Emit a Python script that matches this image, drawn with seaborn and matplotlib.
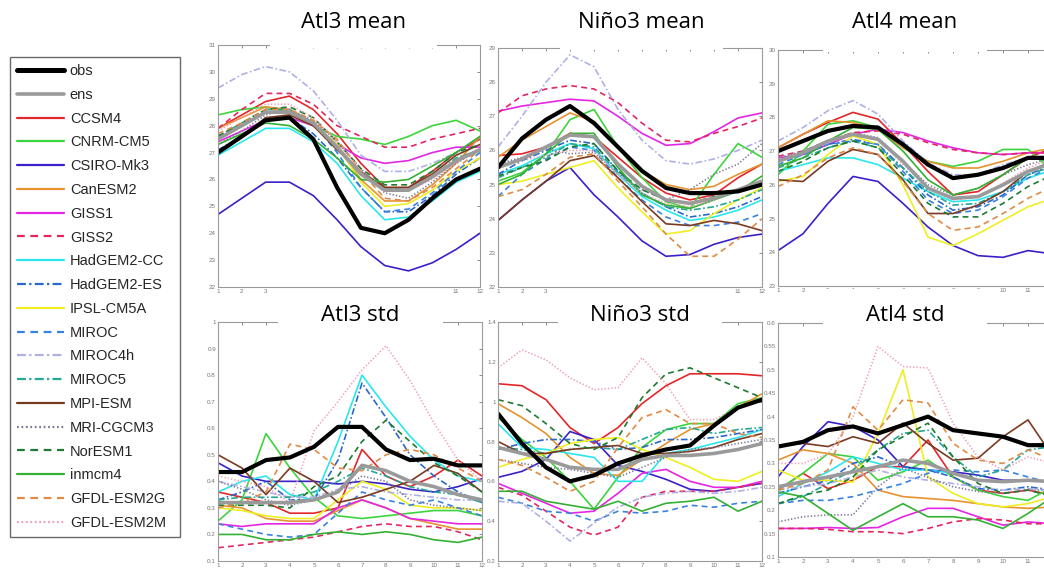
import matplotlib
matplotlib.use('Agg')
import matplotlib.pyplot as plt
from matplotlib.lines import Line2D
from matplotlib.patches import Rectangle
from matplotlib.ticker import FuncFormatter
import numpy as np
import seaborn as sns

# ---------------------------------------------------------------
# Data: monthly climatology (mean) and std, one row per model
# ---------------------------------------------------------------
MONTHS = list(range(1, 13))

MODELS = ['obs', 'ens', 'CCSM4', 'CNRM-CM5', 'CSIRO-Mk3', 'CanESM2', 'GISS1', 'GISS2',
          'HadGEM2-CC', 'HadGEM2-ES', 'IPSL-CM5A', 'MIROC', 'MIROC4h', 'MIROC5',
          'MPI-ESM', 'MRI-CGCM3', 'NorESM1', 'inmcm4', 'GFDL-ESM2G', 'GFDL-ESM2M']

ATL3_MEAN = [
    [27.0, 27.6, 28.2, 28.3, 27.5, 25.7, 24.2, 24.0, 24.5, 25.3, 26.0, 26.4],
    [27.5, 28.0, 28.5, 28.5, 28.1, 27.2, 26.2, 25.6, 25.6, 26.1, 26.7, 27.1],
    [27.9, 28.4, 28.9, 29.1, 28.6, 27.7, 26.6, 25.7, 25.7, 26.3, 27.0, 27.5],
    [28.4, 28.6, 28.7, 28.5, 28.0, 27.6, 27.5, 27.3, 27.6, 28.0, 28.2, 27.8],
    [24.7, 25.3, 25.9, 25.9, 25.4, 24.5, 23.5, 22.8, 22.6, 22.9, 23.4, 24.0],
    [27.9, 28.3, 28.7, 28.6, 28.1, 27.2, 26.0, 25.2, 25.2, 25.8, 26.6, 27.6],
    [27.4, 27.8, 28.2, 28.3, 28.0, 27.3, 26.8, 26.6, 26.7, 27.0, 27.2, 27.2],
    [27.9, 28.6, 29.2, 29.2, 28.8, 28.0, 27.6, 27.2, 27.2, 27.5, 27.7, 27.9],
    [26.9, 27.4, 27.9, 27.9, 27.4, 26.6, 25.4, 24.5, 24.6, 25.2, 25.9, 26.3],
    [27.1, 27.6, 28.2, 28.3, 27.7, 26.8, 25.7, 24.8, 24.8, 25.4, 26.2, 26.8],
    [27.5, 28.0, 28.5, 28.5, 28.1, 27.3, 25.9, 25.0, 25.1, 25.6, 26.3, 26.8],
    [27.6, 28.0, 28.6, 28.6, 28.1, 27.0, 25.7, 24.8, 24.9, 25.5, 26.3, 27.0],
    [29.4, 29.9, 30.2, 30.0, 29.3, 28.2, 26.9, 26.3, 26.3, 26.6, 27.0, 27.6],
    [27.6, 28.1, 28.6, 28.6, 28.1, 27.2, 26.2, 25.7, 25.6, 26.1, 26.8, 27.1],
    [27.0, 27.6, 28.3, 28.4, 28.0, 27.1, 26.3, 25.7, 25.7, 26.2, 26.9, 27.3],
    [27.3, 27.8, 28.4, 28.6, 28.2, 27.4, 26.4, 25.5, 25.3, 25.9, 26.6, 27.1],
    [27.6, 28.1, 28.6, 28.7, 28.3, 27.4, 26.4, 25.8, 25.8, 26.3, 27.0, 27.3],
    [27.3, 27.7, 28.1, 28.0, 27.5, 26.8, 26.0, 25.9, 26.0, 26.5, 27.0, 27.6],
    [27.7, 28.1, 28.6, 28.6, 28.2, 27.5, 26.3, 25.3, 25.2, 25.7, 26.4, 27.1],
    [27.8, 28.3, 28.8, 28.8, 28.3, 27.4, 26.3, 25.6, 25.6, 26.0, 26.6, 27.2],
]

NINO3_MEAN = [
    [25.5, 26.35, 26.9, 27.3, 26.8, 26.1, 25.4, 24.9, 24.75, 24.75, 24.8, 25.0],
    [25.5, 25.75, 26.1, 26.45, 26.4, 25.6, 24.95, 24.55, 24.45, 24.6, 24.85, 25.1],
    [25.85, 25.9, 26.1, 26.5, 26.4, 25.8, 25.2, 24.75, 24.55, 24.7, 25.2, 25.6],
    [25.1, 25.35, 25.9, 26.9, 27.2, 26.1, 25.2, 24.5, 24.3, 25.3, 26.2, 25.8],
    [23.95, 24.55, 25.1, 25.5, 24.7, 24.05, 23.35, 22.9, 22.95, 23.25, 23.45, 23.55],
    [25.8, 26.3, 26.7, 27.1, 26.85, 26.1, 25.4, 25.0, 24.85, 24.95, 25.3, 25.6],
    [27.15, 27.3, 27.4, 27.5, 27.45, 27.0, 26.5, 26.15, 26.2, 26.55, 26.95, 27.1],
    [27.1, 27.6, 27.8, 27.9, 27.8, 27.4, 26.8, 26.3, 26.25, 26.5, 26.7, 26.95],
    [25.3, 25.55, 25.9, 26.2, 26.05, 25.3, 24.65, 24.25, 23.95, 24.05, 24.25, 24.55],
    [25.3, 25.7, 26.0, 26.3, 26.2, 25.4, 24.75, 24.35, 24.05, 24.15, 24.35, 24.65],
    [25.0, 25.1, 25.3, 25.5, 25.7, 24.9, 24.2, 23.55, 23.65, 24.15, 24.55, 24.9],
    [24.65, 25.3, 25.75, 26.1, 26.0, 25.2, 24.55, 24.05, 23.8, 23.8, 23.9, 24.15],
    [26.1, 27.0, 28.0, 28.8, 28.45, 27.2, 26.3, 25.7, 25.6, 25.75, 26.0, 26.3],
    [25.2, 25.5, 25.8, 26.2, 26.1, 25.35, 24.75, 24.35, 24.25, 24.35, 24.55, 24.85],
    [23.95, 24.55, 25.1, 25.7, 25.85, 25.2, 24.5, 23.85, 23.8, 23.95, 23.85, 23.65],
    [25.6, 25.8, 26.05, 25.9, 25.95, 25.3, 24.85, 24.55, 24.85, 25.3, 25.6, 26.2],
    [25.25, 25.5, 25.7, 26.1, 26.2, 25.4, 24.85, 24.55, 24.45, 24.65, 24.85, 25.05],
    [25.0, 25.3, 25.9, 26.5, 26.5, 25.5, 24.7, 24.4, 24.3, 24.55, 24.8, 25.25],
    [24.65, 24.85, 25.3, 25.8, 25.9, 25.1, 24.35, 23.55, 22.9, 22.9, 23.4, 24.0],
    [25.5, 25.7, 25.85, 26.0, 26.0, 25.3, 24.75, 24.45, 24.35, 24.55, 24.85, 25.1],
]

ATL4_MEAN = [
    [27.0, 27.3, 27.6, 27.75, 27.7, 27.2, 26.6, 26.2, 26.3, 26.5, 26.8, 26.8],
    [26.7, 26.95, 27.3, 27.5, 27.35, 26.7, 25.9, 25.6, 25.65, 26.0, 26.4, 26.65],
    [27.1, 27.5, 27.85, 28.15, 27.95, 27.2, 26.4, 25.7, 25.8, 26.3, 26.8, 27.1],
    [26.3, 27.0, 27.8, 27.9, 27.7, 27.1, 26.7, 26.55, 26.7, 27.05, 27.05, 26.4],
    [24.05, 24.55, 25.45, 26.25, 26.1, 25.45, 24.75, 24.2, 23.9, 23.85, 24.05, 23.95],
    [27.1, 27.5, 27.9, 27.85, 27.65, 27.1, 26.7, 26.5, 26.5, 26.7, 26.95, 27.1],
    [26.8, 26.9, 27.2, 27.5, 27.65, 27.55, 27.3, 27.1, 26.95, 26.9, 26.95, 26.95],
    [26.85, 27.0, 27.3, 27.55, 27.6, 27.5, 27.25, 27.05, 26.95, 26.9, 26.95, 26.95],
    [26.4, 26.6, 26.8, 26.8, 26.6, 26.2, 25.8, 25.5, 25.55, 25.8, 26.2, 26.45],
    [26.7, 26.9, 27.2, 27.35, 27.2, 26.5, 25.7, 25.25, 25.35, 25.7, 26.3, 26.6],
    [26.1, 26.25, 26.9, 27.45, 27.2, 26.0, 24.45, 24.2, 24.55, 24.95, 25.35, 25.6],
    [26.6, 26.9, 27.2, 27.3, 27.2, 26.4, 25.55, 25.15, 25.25, 25.65, 26.2, 26.55],
    [27.3, 27.7, 28.2, 28.5, 28.1, 27.3, 26.65, 26.3, 26.3, 26.6, 26.8, 26.9],
    [26.5, 26.8, 27.1, 27.3, 27.1, 26.5, 25.8, 25.4, 25.45, 25.8, 26.3, 26.55],
    [26.15, 26.1, 26.7, 27.05, 26.9, 26.15, 25.15, 25.15, 25.4, 25.8, 26.4, 26.7],
    [26.8, 27.0, 27.3, 27.55, 27.4, 26.7, 26.0, 25.7, 25.9, 26.3, 26.6, 26.8],
    [26.4, 26.7, 27.1, 27.3, 27.1, 26.3, 25.45, 25.05, 25.05, 25.45, 25.95, 26.3],
    [26.55, 26.8, 27.3, 27.7, 27.65, 27.0, 26.15, 25.7, 25.9, 26.3, 26.8, 26.7],
    [25.95, 26.3, 26.8, 27.1, 26.9, 26.1, 25.15, 24.65, 24.75, 25.15, 25.6, 25.95],
    [26.7, 26.95, 27.25, 27.5, 27.35, 26.6, 25.9, 25.55, 25.65, 26.05, 26.5, 26.8],
]

ATL3_STD = [
    [0.435, 0.435, 0.48, 0.49, 0.53, 0.605, 0.605, 0.52, 0.48, 0.485, 0.46, 0.46],
    [0.32, 0.32, 0.32, 0.32, 0.33, 0.36, 0.46, 0.44, 0.40, 0.38, 0.35, 0.33],
    [0.36, 0.34, 0.32, 0.28, 0.28, 0.30, 0.52, 0.42, 0.38, 0.42, 0.48, 0.42],
    [0.25, 0.33, 0.58, 0.45, 0.34, 0.27, 0.26, 0.27, 0.28, 0.29, 0.29, 0.27],
    [0.47, 0.42, 0.40, 0.40, 0.40, 0.39, 0.40, 0.39, 0.37, 0.36, 0.38, 0.41],
    [0.31, 0.30, 0.26, 0.25, 0.25, 0.29, 0.33, 0.30, 0.26, 0.24, 0.22, 0.22],
    [0.24, 0.23, 0.24, 0.24, 0.24, 0.30, 0.33, 0.30, 0.26, 0.25, 0.24, 0.24],
    [0.15, 0.16, 0.17, 0.18, 0.19, 0.21, 0.23, 0.24, 0.23, 0.23, 0.21, 0.18],
    [0.36, 0.40, 0.42, 0.35, 0.33, 0.55, 0.80, 0.68, 0.57, 0.48, 0.42, 0.40],
    [0.33, 0.36, 0.40, 0.33, 0.33, 0.48, 0.77, 0.64, 0.50, 0.42, 0.36, 0.32],
    [0.30, 0.29, 0.27, 0.26, 0.26, 0.33, 0.40, 0.37, 0.31, 0.30, 0.30, 0.29],
    [0.24, 0.22, 0.20, 0.19, 0.20, 0.28, 0.36, 0.33, 0.31, 0.33, 0.30, 0.27],
    [0.40, 0.38, 0.36, 0.34, 0.34, 0.37, 0.38, 0.36, 0.35, 0.34, 0.33, 0.33],
    [0.33, 0.34, 0.34, 0.34, 0.36, 0.40, 0.45, 0.42, 0.38, 0.36, 0.35, 0.32],
    [0.50, 0.45, 0.35, 0.45, 0.40, 0.32, 0.34, 0.37, 0.40, 0.46, 0.43, 0.36],
    [0.40, 0.37, 0.33, 0.31, 0.33, 0.36, 0.42, 0.40, 0.33, 0.31, 0.30, 0.29],
    [0.31, 0.31, 0.31, 0.30, 0.38, 0.42, 0.55, 0.63, 0.55, 0.47, 0.42, 0.36],
    [0.20, 0.20, 0.18, 0.18, 0.20, 0.21, 0.20, 0.21, 0.20, 0.18, 0.17, 0.19],
    [0.30, 0.32, 0.36, 0.54, 0.52, 0.45, 0.44, 0.50, 0.52, 0.50, 0.45, 0.40],
    [0.42, 0.40, 0.38, 0.32, 0.59, 0.70, 0.82, 0.91, 0.78, 0.62, 0.48, 0.40],
]

NINO3_STD = [
    [0.94, 0.79, 0.67, 0.60, 0.63, 0.69, 0.73, 0.76, 0.78, 0.88, 0.97, 1.01],
    [0.77, 0.74, 0.71, 0.67, 0.66, 0.66, 0.71, 0.73, 0.73, 0.74, 0.76, 0.79],
    [1.09, 1.08, 1.01, 0.87, 0.79, 0.87, 0.99, 1.08, 1.14, 1.14, 1.14, 1.13],
    [0.92, 0.81, 0.72, 0.60, 0.46, 0.62, 0.77, 0.86, 0.89, 0.89, 0.99, 1.02],
    [0.62, 0.65, 0.71, 0.85, 0.81, 0.68, 0.65, 0.61, 0.56, 0.55, 0.57, 0.59],
    [0.99, 0.92, 0.84, 0.72, 0.64, 0.63, 0.71, 0.79, 0.86, 0.89, 0.97, 1.04],
    [0.59, 0.54, 0.49, 0.44, 0.45, 0.54, 0.64, 0.66, 0.60, 0.57, 0.57, 0.60],
    [0.57, 0.53, 0.45, 0.37, 0.33, 0.37, 0.52, 0.55, 0.55, 0.55, 0.57, 0.59],
    [0.89, 0.77, 0.76, 0.74, 0.72, 0.60, 0.60, 0.74, 0.76, 0.79, 0.82, 0.86],
    [0.76, 0.79, 0.81, 0.81, 0.80, 0.76, 0.77, 0.81, 0.81, 0.82, 0.84, 0.86],
    [0.67, 0.71, 0.74, 0.79, 0.81, 0.82, 0.76, 0.72, 0.67, 0.61, 0.60, 0.65],
    [0.52, 0.49, 0.45, 0.44, 0.40, 0.45, 0.44, 0.45, 0.48, 0.47, 0.49, 0.50],
    [0.50, 0.49, 0.40, 0.30, 0.39, 0.47, 0.52, 0.54, 0.55, 0.54, 0.55, 0.57],
    [0.77, 0.76, 0.74, 0.76, 0.77, 0.76, 0.81, 0.86, 0.87, 0.84, 0.86, 0.87],
    [0.80, 0.74, 0.74, 0.76, 0.77, 0.78, 0.74, 0.74, 0.75, 0.77, 0.81, 0.84],
    [0.71, 0.69, 0.67, 0.66, 0.64, 0.62, 0.67, 0.72, 0.76, 0.77, 0.79, 0.81],
    [1.01, 0.98, 0.89, 0.79, 0.76, 0.82, 1.02, 1.14, 1.17, 1.12, 1.07, 1.02],
    [0.55, 0.55, 0.50, 0.48, 0.46, 0.50, 0.45, 0.49, 0.50, 0.52, 0.45, 0.50],
    [0.71, 0.68, 0.62, 0.55, 0.60, 0.77, 0.92, 0.96, 0.89, 0.89, 0.84, 0.82],
    [1.17, 1.26, 1.21, 1.12, 1.06, 1.07, 1.22, 1.09, 0.91, 0.91, 0.97, 1.02],
]

ATL4_STD = [
    [0.336, 0.346, 0.371, 0.379, 0.364, 0.382, 0.400, 0.371, 0.364, 0.357, 0.339, 0.339],
    [0.250, 0.261, 0.271, 0.282, 0.293, 0.307, 0.300, 0.279, 0.264, 0.261, 0.264, 0.261],
    [0.243, 0.279, 0.246, 0.264, 0.293, 0.293, 0.350, 0.271, 0.243, 0.236, 0.243, 0.232],
    [0.243, 0.279, 0.321, 0.314, 0.264, 0.282, 0.307, 0.271, 0.243, 0.229, 0.221, 0.250],
    [0.271, 0.336, 0.389, 0.379, 0.350, 0.293, 0.286, 0.282, 0.275, 0.264, 0.264, 0.261],
    [0.307, 0.329, 0.321, 0.300, 0.243, 0.229, 0.225, 0.221, 0.214, 0.207, 0.204, 0.207],
    [0.161, 0.161, 0.163, 0.161, 0.163, 0.186, 0.204, 0.204, 0.186, 0.168, 0.175, 0.171],
    [0.161, 0.161, 0.159, 0.154, 0.154, 0.150, 0.161, 0.175, 0.182, 0.179, 0.171, 0.171],
    [0.229, 0.257, 0.282, 0.314, 0.300, 0.286, 0.286, 0.279, 0.264, 0.261, 0.264, 0.261],
    [0.236, 0.250, 0.264, 0.300, 0.314, 0.293, 0.286, 0.271, 0.246, 0.243, 0.250, 0.243],
    [0.286, 0.264, 0.264, 0.260, 0.364, 0.500, 0.271, 0.236, 0.214, 0.207, 0.214, 0.229],
    [0.214, 0.221, 0.221, 0.229, 0.243, 0.257, 0.279, 0.286, 0.282, 0.286, 0.271, 0.257],
    [0.243, 0.250, 0.257, 0.271, 0.286, 0.271, 0.264, 0.257, 0.250, 0.243, 0.246, 0.243],
    [0.214, 0.229, 0.257, 0.286, 0.329, 0.364, 0.371, 0.314, 0.271, 0.286, 0.329, 0.336],
    [0.336, 0.343, 0.336, 0.357, 0.343, 0.386, 0.343, 0.307, 0.311, 0.357, 0.393, 0.314],
    [0.175, 0.186, 0.190, 0.190, 0.250, 0.290, 0.270, 0.250, 0.240, 0.236, 0.243, 0.243],
    [0.214, 0.232, 0.243, 0.271, 0.329, 0.357, 0.386, 0.314, 0.257, 0.236, 0.243, 0.229],
    [0.239, 0.229, 0.193, 0.157, 0.186, 0.214, 0.186, 0.186, 0.179, 0.161, 0.193, 0.229],
    [0.243, 0.257, 0.286, 0.421, 0.371, 0.436, 0.429, 0.343, 0.307, 0.300, 0.329, 0.307],
    [0.300, 0.300, 0.320, 0.400, 0.550, 0.507, 0.504, 0.386, 0.314, 0.286, 0.314, 0.300],
]

# ---------------------------------------------------------------
# Styles (kept apart from the data)
# ---------------------------------------------------------------
COLORS = {
    'obs': '#000000', 'ens': '#9a9a9a', 'CCSM4': '#e3262a', 'CNRM-CM5': '#3cd43c',
    'CSIRO-Mk3': '#3a20c8', 'CanESM2': '#e8922e', 'GISS1': '#e326e3', 'GISS2': '#e3265e',
    'HadGEM2-CC': '#2ae6ee', 'HadGEM2-ES': '#2a68cc', 'IPSL-CM5A': '#eeee22',
    'MIROC': '#3a82e0', 'MIROC4h': '#aeb0e6', 'MIROC5': '#22a894', 'MPI-ESM': '#7a3a22',
    'MRI-CGCM3': '#7a7a96', 'NorESM1': '#1e7a30', 'inmcm4': '#34b034',
    'GFDL-ESM2G': '#e08a46', 'GFDL-ESM2M': '#f0a0b4',
}
DASHES = {
    'GISS2': (3.5, 2.5), 'HadGEM2-ES': (4, 1.5, 1, 1.5), 'MIROC': (3.5, 2.5),
    'MIROC4h': (4, 1.5, 1, 1.5), 'MIROC5': (4, 1.5, 1, 1.5), 'MRI-CGCM3': (0.8, 1.2),
    'NorESM1': (3.5, 2.5), 'GFDL-ESM2G': (3.5, 2.5), 'GFDL-ESM2M': (0.8, 1.2),
}
WIDTHS = {'obs': 3.0, 'ens': 2.6}

PANELS = [
    # title, data, axes rect in px (x0, y0, x1, y1), ylim, ystep, title box (x0, x1, y0, y1), title y
    ('Atl3 mean', ATL3_MEAN, (218, 45, 480, 287), (22, 31), 1, (270, 437, 0, 48), 22),
    ('Niño3 mean', NINO3_MEAN, (498, 48, 762, 287), (22, 29), 1, (560, 723, 0, 50), 22),
    ('Atl4 mean', ATL4_MEAN, (778, 50, 1053, 286), (23, 30), 1, (823, 987, 0, 52), 22),
    ('Atl3 std', ATL3_STD, (218, 322, 482, 561), (0.1, 1.0), 0.1, (278, 443, 289, 326), 316),
    ('Niño3 std', NINO3_STD, (498, 322, 762, 561), (0.2, 1.4), 0.2, (558, 722, 289, 326), 316),
    ('Atl4 std', ATL4_STD, (778, 323, 1053, 557), (0.1, 0.6), 0.05, (823, 987, 289, 327), 316),
]

W, H = 1044, 572

sns.set_theme(style='white')
plt.rcParams['font.family'] = ['Liberation Sans', 'DejaVu Sans']

fig = plt.figure(figsize=(W / 100, H / 100), dpi=100, facecolor='white')


def px_rect(x0, y0, x1, y1):
    return [x0 / W, 1 - y1 / H, (x1 - x0) / W, (y1 - y0) / H]


draw_order = MODELS[2:] + ['ens', 'obs']

for title, data, rect, ylim, ystep, tbox, ty in PANELS:
    ax = fig.add_axes(px_rect(*rect))
    for name in draw_order:
        vals = data[MODELS.index(name)]
        line_kw = dict(color=COLORS[name], lw=WIDTHS.get(name, 1.2))
        if name in DASHES:
            line_kw['dashes'] = DASHES[name]
        sns.lineplot(x=MONTHS, y=vals, ax=ax, legend=False, **line_kw)

    ax.set_xlim(1, 12)
    ax.set_ylim(*ylim)
    ax.set_xticks(MONTHS)
    # the Atl4 panels run past the right edge of the figure: month 12 label is cut away
    if rect[2] > W:
        ax.set_xticklabels([str(m) if m < 12 else '' for m in MONTHS])
    ax.set_yticks(np.arange(ylim[0], ylim[1] + ystep / 2, ystep))
    ax.yaxis.set_major_formatter(FuncFormatter(lambda v, p: '%g' % round(v, 2)))
    ax.tick_params(direction='in', top=True, right=True, length=2.5, width=0.6,
                   labelsize=4.5, colors='#777777', pad=1.5)
    for sp in ax.spines.values():
        sp.set_color('#9a9a9a')
        sp.set_linewidth(0.8)
    ax.set_xlabel('')
    ax.set_ylabel('')

    # white label box on top of the frame, as in the source figure
    bx0, bx1, by0, by1 = tbox
    fig.add_artist(Rectangle((bx0 / W, 1 - by1 / H), (bx1 - bx0) / W, (by1 - by0) / H,
                             transform=fig.transFigure, facecolor='white',
                             edgecolor='none', zorder=5))
    fig.text((bx0 + bx1) / 2 / W, 1 - ty / H, title, ha='center', va='center',
             fontsize=16, family=['Open Sans', 'DejaVu Sans'], color='black', zorder=6)

# legend panel at left
lax = fig.add_axes(px_rect(10, 57, 180, 537))
lax.axis('off')
handles = []
for name in MODELS:
    h = Line2D([], [], color=COLORS[name], lw=WIDTHS.get(name, 1.6) + (0.6 if name == 'obs' else 0))
    if name in DASHES:
        h.set_dashes(DASHES[name])
    handles.append(h)
leg = lax.legend(handles, MODELS, loc='center', bbox_to_anchor=(0, 0, 1, 1), mode='expand',
                 borderaxespad=0, frameon=True, fancybox=False, fontsize=10.5,
                 handlelength=3.2, handletextpad=0.4, labelspacing=0.67, borderpad=0.5)
leg.get_frame().set_edgecolor('#444444')
leg.get_frame().set_linewidth(1.0)

fig.savefig('out.png', dpi=100, facecolor='white')
